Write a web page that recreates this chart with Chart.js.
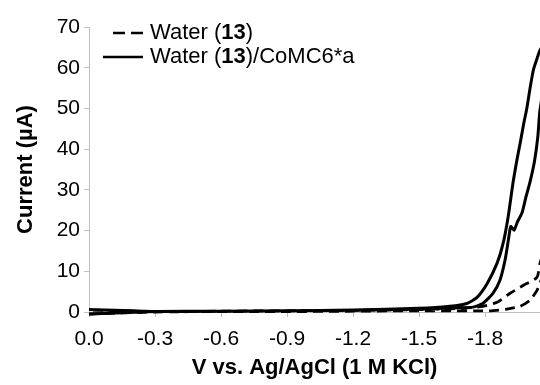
<!DOCTYPE html>
<html>
<head>
<meta charset="utf-8">
<script src="https://cdn.jsdelivr.net/npm/chart.js@4"></script>
<style>
  html, body { margin: 0; padding: 0; background: #fff; }
  #wrap { width: 540px; height: 385px; }
</style>
</head>
<body>
<div id="wrap"><canvas id="cv-chart"></canvas></div>
<script>
// Water (13): forward scan (0 -> -2.1 V) and return scan
const waterFwdV = [0, -0.3, -0.6, -0.9, -1.2, -1.5, -1.65, -1.75, -1.82, -1.9, -1.96, -2.005, -2.036, -2.05, -2.1];
const waterFwdI = [-0.5, 0.0, 0.1, 0.1, 0.2, 0.3, 0.3, 0.3, 0.3, 0.7, 1.4, 2.9, 5.3, 7.0, 16];
const waterRevV = [-2.1, -2.05, -2.036, -1.973, -1.914, -1.855, -1.79, -1.745, -1.65, -1.5, -1.2, -0.9, -0.6, -0.3, 0];
const waterRevI = [20, 12, 8.5, 6.5, 4.6, 2.4, 1.4, 1.1, 0.8, 0.6, 0.4, 0.3, 0.2, 0.1, 0.5];

// Water (13)/CoMC6*a
const comcFwdV = [0, -0.3, -0.6, -0.9, -1.2, -1.5, -1.65, -1.745, -1.79, -1.836, -1.868, -1.891, -1.906, -1.917, -1.932, -1.947, -1.968, -1.985, -2.005, -2.025, -2.04, -2.05, -2.1];
const comcFwdI = [-0.5, 0.1, 0.2, 0.3, 0.4, 0.7, 1.0, 1.2, 2.1, 4.6, 7.8, 12.7, 17.6, 21.0, 20.1, 22.1, 24.3, 28, 32, 37, 43, 49.6, 66];
const comcRevV = [-2.1, -2.05, -2.035, -2.02, -2.005, -1.99, -1.975, -1.96, -1.945, -1.927, -1.905, -1.882, -1.855, -1.81, -1.764, -1.718, -1.64, -1.5, -1.2, -0.9, -0.6, -0.3, 0];
const comcRevI = [68, 64.3, 62, 59.5, 55, 50, 46, 41.5, 37.3, 31.6, 23.3, 16.8, 12, 7, 3.6, 2.1, 1.4, 0.9, 0.5, 0.3, 0.2, 0.1, 0.6];

const seriesLabels = ['Water (13)', 'Water (13)/CoMC6*a'];
const xTicks = [0, -0.3, -0.6, -0.9, -1.2, -1.5, -1.8];
const yTicks = [0, 10, 20, 30, 40, 50, 60, 70];

const FONT = '"Liberation Sans", Arial, sans-serif';

function toPoints(vs, is) {
    return vs.map(function(v, i) { return {x: v, y: is[i]}; });
}

// legend with the compound number in bold
const boldLegend = {
    id: 'boldLegend',
    afterDraw(chart) {
        const ctx = chart.ctx;
        const rows = [
            {y: 33, x0: 113, x1: 143, dash: [12, 6]},
            {y: 57, x0: 103, x1: 143, dash: []}
        ];
        ctx.save();
        chart.data.datasets.forEach(function(ds, i) {
            const r = rows[i];
            ctx.strokeStyle = '#000';
            ctx.lineWidth = 2.5;
            ctx.setLineDash(r.dash);
            ctx.beginPath();
            ctx.moveTo(r.x0, r.y);
            ctx.lineTo(r.x1, r.y);
            ctx.stroke();
            ctx.setLineDash([]);

            let x = 150;
            ctx.fillStyle = '#000';
            ctx.textBaseline = 'middle';
            ds.label.split(/(13)/).forEach(function(part) {
                if (!part) return;
                ctx.font = (part === '13' ? 'bold ' : '') + '22px ' + FONT;
                ctx.fillText(part, x, r.y);
                x += ctx.measureText(part).width;
            });
        });
        ctx.restore();
    }
};

const ctx = document.getElementById('cv-chart');

new Chart(ctx, {
    type: 'scatter',
    data: {
        datasets: [
            {
                label: seriesLabels[0],
                data: toPoints(waterFwdV.concat(waterRevV), waterFwdI.concat(waterRevI)),
                showLine: true,
                borderColor: '#000',
                borderWidth: 2.8,
                borderDash: [10, 6],
                pointRadius: 0,
                tension: 0.2,
                clip: false
            },
            {
                label: seriesLabels[1],
                data: toPoints(comcFwdV.concat(comcRevV), comcFwdI.concat(comcRevI)),
                showLine: true,
                borderColor: '#000',
                borderWidth: 3,
                pointRadius: 0,
                tension: 0.2,
                clip: false
            }
        ]
    },
    options: {
        responsive: true,
        maintainAspectRatio: false,
        animation: false,
        layout: {padding: {top: 27, right: 0, left: 0, bottom: 0}},
        plugins: {
            legend: {display: false},
            tooltip: {enabled: false}
        },
        scales: {
            x: {
                type: 'linear',
                reverse: true,
                min: -2.05,
                max: 0,
                afterBuildTicks: function(scale) {
                    scale.ticks = xTicks.map(function(v) { return {value: v}; });
                },
                afterFit: function(scale) { scale.height = 73; },
                ticks: {
                    color: '#000',
                    font: {family: FONT, size: 21},
                    padding: 10,
                    maxRotation: 0,
                    callback: function(v) { return Number(v).toFixed(1); }
                },
                grid: {drawOnChartArea: false, drawTicks: true, tickLength: 5, color: '#c0c0c0'},
                border: {color: '#c0c0c0', width: 1},
                title: {
                    display: true,
                    text: 'V vs. Ag/AgCl (1 M KCl)',
                    color: '#000',
                    font: {family: FONT, size: 22, weight: 'bold'},
                    padding: {top: 0, bottom: 4}
                }
            },
            y: {
                type: 'linear',
                min: 0,
                max: 70,
                afterBuildTicks: function(scale) {
                    scale.ticks = yTicks.map(function(v) { return {value: v}; });
                },
                afterFit: function(scale) { scale.width = 89; },
                ticks: {
                    color: '#000',
                    font: {family: FONT, size: 21},
                    padding: 4
                },
                grid: {drawOnChartArea: false, drawTicks: true, tickLength: 5, color: '#c0c0c0'},
                border: {color: '#c0c0c0', width: 1},
                title: {
                    display: true,
                    text: 'Current (µA)',
                    color: '#000',
                    font: {family: FONT, size: 22, weight: 'bold'},
                    padding: {top: 13, bottom: 0}
                }
            }
        }
    },
    plugins: [boldLegend]
});
</script>
</body>
</html>
